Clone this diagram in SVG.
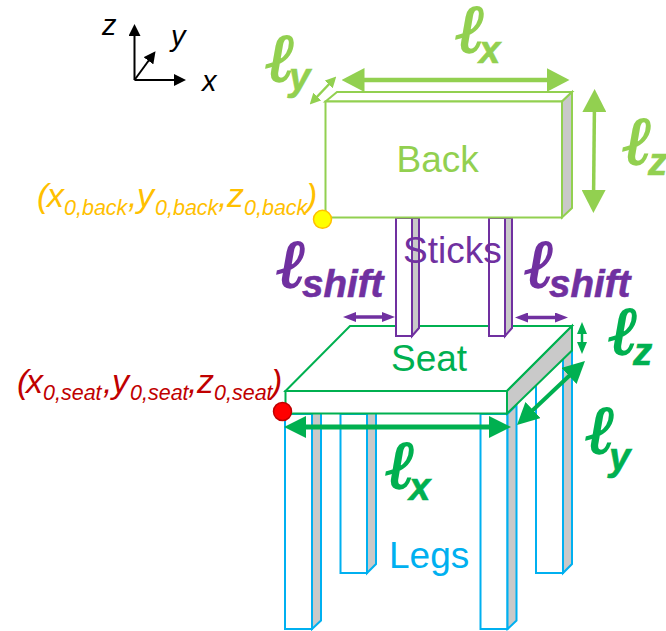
<svg xmlns="http://www.w3.org/2000/svg" width="666" height="631" viewBox="0 0 666 631">
<style>
text{font-family:"Liberation Sans",Arial,sans-serif}
.f{fill:#fff;stroke-width:2;stroke-linejoin:miter}
.s{fill:#c9c9c9;stroke-width:2}
.leg polygon,.leg rect,.leg path{stroke:#00b0f0}
.stick polygon,.stick rect{stroke:#7030a0}
.lab{font-size:37px}
.ax{font-size:29px;font-style:italic;fill:#000}
.co{font-size:34px;font-style:italic}
.co tspan.u{font-size:21.5px}
.l{font-family:"Liberation Serif","DejaVu Serif",serif;font-style:italic;font-weight:bold;font-size:68px;stroke-width:1.8}
.b{font-size:38.5px;font-style:italic;font-weight:bold;stroke-width:.6}
.lg{fill:#92d050;stroke:#92d050}.dg{fill:#00b050;stroke:#00b050}.pu{fill:#7030a0;stroke:#7030a0}
.arr{fill:none}
</style>
<defs>
<marker id="mAx" viewBox="0 0 10 10" refX="5" refY="5" markerUnits="userSpaceOnUse" markerWidth="12" markerHeight="12" orient="auto-start-reverse"><path d="M0,0L10,5L0,10z" fill="#000"/></marker>
<marker id="mLgB" viewBox="0 0 10 10" refX="5" refY="5" markerUnits="userSpaceOnUse" markerWidth="23" markerHeight="24" preserveAspectRatio="none" orient="auto-start-reverse"><path d="M0,0L10,5L0,10z" fill="#92d050"/></marker>
<marker id="mLgS" viewBox="0 0 10 10" refX="5" refY="5" markerUnits="userSpaceOnUse" markerWidth="11" markerHeight="11" preserveAspectRatio="none" orient="auto-start-reverse"><path d="M0,0L10,5L0,10z" fill="#92d050"/></marker>
<marker id="mDgB" viewBox="0 0 10 10" refX="5" refY="5" markerUnits="userSpaceOnUse" markerWidth="22" markerHeight="22" preserveAspectRatio="none" orient="auto-start-reverse"><path d="M0,0L10,5L0,10z" fill="#00b050"/></marker>
<marker id="mDgS" viewBox="0 0 10 10" refX="5" refY="5" markerUnits="userSpaceOnUse" markerWidth="12" markerHeight="10" preserveAspectRatio="none" orient="auto-start-reverse"><path d="M0,0L10,5L0,10z" fill="#00b050"/></marker>
<marker id="mPu" viewBox="0 0 10 10" refX="5" refY="5" markerUnits="userSpaceOnUse" markerWidth="13" markerHeight="10" preserveAspectRatio="none" orient="auto-start-reverse"><path d="M0,0L10,5L0,10z" fill="#7030a0"/></marker>
</defs>

<g id="legs" class="leg">
<g id="leg-back-left"><rect class="f" x="340.5" y="414" width="26.5" height="159"/><polygon class="s" points="367,414 376,405 376,564 367,573"/></g>
<g id="leg-back-right"><path class="f" d="M536,385V573H563V358"/><polygon class="s" points="563,358 572,349 572,564 563,573"/></g>
<g id="leg-front-left"><rect class="f" x="285" y="414" width="27" height="215"/><polygon class="s" points="312,414 321,405 321,620.500 312,629"/></g>
<g id="leg-front-right"><rect class="f" x="480.500" y="414" width="27" height="215"/><polygon class="s" points="507.500,414 516.500,405 516.500,620.500 507.500,629"/></g>
<text class="lab" x="389" y="568" fill="#00b0f0">Legs</text>
</g>

<g id="seat">
<polygon class="f" stroke="#00b050" points="285.500,391 350,326 572,326 507,391"/>
<rect class="f" stroke="#00b050" x="285.500" y="391" width="221.500" height="22.500"/>
<polygon class="s" stroke="#00b050" points="507,391 572,326 572,350.500 507,413.500"/>
<text class="lab" x="391" y="370.500" fill="#00b050">Seat</text>
</g>

<g id="sticks" class="stick">
<g id="stick-left"><rect class="f" x="396" y="218" width="16" height="118"/><polygon class="s" points="412,218 419,218 419,328 412,336"/></g>
<g id="stick-right"><rect class="f" x="489" y="218" width="16" height="118"/><polygon class="s" points="505,218 512,218 512,328 505,336"/></g>
<text class="lab" x="403" y="263" fill="#7030a0">Sticks</text>
</g>

<g id="back">
<polygon class="f" stroke="#92d050" points="325.500,101.500 337,92 572,92 562,101.500"/>
<rect class="f" stroke="#92d050" x="325.500" y="101.500" width="236.500" height="116"/>
<polygon class="s" stroke="#92d050" points="562,101.500 572,92 572,208 562,217.500"/>
<text class="lab" x="396.500" y="172" fill="#92d050">Back</text>
</g>

<g id="connectors" class="arr">
<path d="M134.500,80V30" stroke="#000" stroke-width="2" marker-end="url(#mAx)"/>
<path d="M134.500,80H180" stroke="#000" stroke-width="2" marker-end="url(#mAx)"/>
<path d="M134.500,80L152,56" stroke="#000" stroke-width="2" marker-end="url(#mAx)"/>
<path d="M353,80H558" stroke="#92d050" stroke-width="4.500" marker-start="url(#mLgB)" marker-end="url(#mLgB)"/>
<path d="M594.500,100.500L593.500,201.500" stroke="#92d050" stroke-width="3.500" marker-start="url(#mLgB)" marker-end="url(#mLgB)"/>
<path d="M313.500,100.500L332.500,80.500" stroke="#92d050" stroke-width="2.500" marker-start="url(#mLgS)" marker-end="url(#mLgS)"/>
<path d="M295,427H500" stroke="#00b050" stroke-width="5" marker-start="url(#mDgB)" marker-end="url(#mDgB)"/>
<path d="M525,417.500L577,368.500" stroke="#00b050" stroke-width="4" marker-start="url(#mDgB)" marker-end="url(#mDgB)"/>
<path d="M582,328V348" stroke="#00b050" stroke-width="2.500" marker-start="url(#mDgS)" marker-end="url(#mDgS)"/>
<path d="M349.500,317H388.500" stroke="#7030a0" stroke-width="3.500" marker-start="url(#mPu)" marker-end="url(#mPu)"/>
<path d="M521.500,317.500H561.500" stroke="#7030a0" stroke-width="3.500" marker-start="url(#mPu)" marker-end="url(#mPu)"/>
</g>

<g id="axis-labels">
<text class="ax" x="102" y="35">z</text>
<text class="ax" x="171" y="46">y</text>
<text class="ax" x="202" y="91">x</text>
</g>

<g id="back-dims" class="lg">
<text class="l" x="456" y="52">ℓ</text><text class="b" x="479" y="63">x</text>
<text class="l" x="266" y="81">ℓ</text><text class="b" x="289" y="90">y</text>
<text class="l" x="623" y="164">ℓ</text><text class="b" x="648" y="175">z</text>
</g>
<g id="seat-dims" class="dg">
<text class="l" x="609" y="354">ℓ</text><text class="b" x="633" y="365">z</text>
<text class="l" x="586" y="453">ℓ</text><text class="b" x="609" y="470">y</text>
<text class="l" x="386" y="488">ℓ</text><text class="b" x="409" y="500">x</text>
</g>
<g id="stick-dims" class="pu">
<text class="l" x="277" y="287">ℓ</text><text class="b" x="302" y="297">shift</text>
<text class="l" x="525" y="287">ℓ</text><text class="b" x="549" y="297">shift</text>
</g>

<g id="origin-back">
<text class="co" y="207" fill="#ffc000"><tspan x="37">(</tspan><tspan x="47">x</tspan><tspan class="u" x="64" y="215">0,back</tspan><tspan x="128" y="207">,</tspan><tspan x="137">y</tspan><tspan class="u" x="155" y="215">0,back</tspan><tspan x="218" y="207">,</tspan><tspan x="227">z</tspan><tspan class="u" x="244" y="215">0,back</tspan><tspan x="306" y="207">)</tspan></text>
<circle cx="322.500" cy="219.300" r="9" fill="#ffff00" stroke="#ffc000" stroke-width="1.500"/>
</g>
<g id="origin-seat">
<text class="co" y="392.500" fill="#c00000"><tspan x="17">(</tspan><tspan x="26">x</tspan><tspan class="u" x="43" y="400">0,seat</tspan><tspan x="103" y="392.500">,</tspan><tspan x="112">y</tspan><tspan class="u" x="130" y="400">0,seat</tspan><tspan x="188" y="392.500">,</tspan><tspan x="197">z</tspan><tspan class="u" x="214" y="400">0,seat</tspan><tspan x="271" y="392.500">)</tspan></text>
<circle cx="282.500" cy="411.500" r="9" fill="#ff0000" stroke="#c00000" stroke-width="1.500"/>
</g>
</svg>
